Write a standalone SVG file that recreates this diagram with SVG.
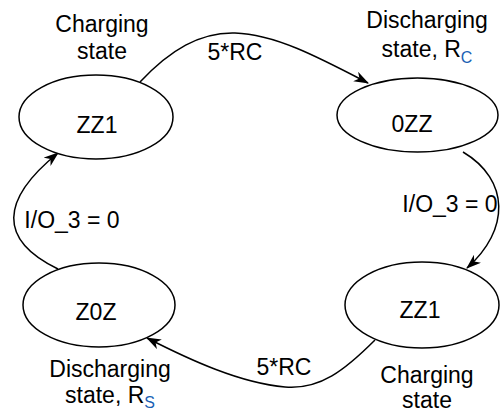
<svg xmlns="http://www.w3.org/2000/svg" width="503" height="413" viewBox="0 0 503 413">
<defs>
<style>
.node ellipse{fill:#fff;stroke:#000;stroke-width:1.5}
text{font-family:"Liberation Sans",Arial,sans-serif;font-size:23px;fill:#000;text-anchor:middle}
.sub{font-size:16px;fill:#1a5fb4}
.edge{fill:none;stroke:#000;stroke-width:1.5}
</style>
<marker id="arr" viewBox="0 0 14 10" refX="13" refY="5" markerWidth="15" markerHeight="11" markerUnits="userSpaceOnUse" orient="auto">
<path d="M0,0 L14,5 L0,10 L4,5 Z" fill="#000"/>
</marker>
</defs>
<g id="connectors">
<path class="edge" d="M140,82 C170,50 200,32 235,33 C275,34 320,58 368,83" marker-end="url(#arr)"/>
<path class="edge" d="M463,152 C510,180 510,230 467,268" marker-end="url(#arr)"/>
<path class="edge" d="M375,340 C345,370 320,390 285,387 C240,383 190,360 147,338" marker-end="url(#arr)"/>
<path class="edge" d="M58,269 C-2,240 0,200 58,153" marker-end="url(#arr)"/>
<text x="235" y="60">5*RC</text>
<text x="450" y="212">I/O_3 = 0</text>
<text x="284" y="375">5*RC</text>
<text x="72" y="228">I/O_3 = 0</text>
</g>
<g id="n_zz1_top" class="node">
<ellipse cx="96" cy="117" rx="77" ry="42"/>
<text x="97" y="133">ZZ1</text>
<text x="102" y="32">Charging</text>
<text x="102" y="59">state</text>
</g>
<g id="n_0zz" class="node">
<ellipse cx="417.5" cy="115" rx="80.5" ry="37"/>
<text x="412" y="132">0ZZ</text>
<text x="427" y="28">Discharging</text>
<text x="427" y="57">state, R<tspan class="sub" dy="6">C</tspan></text>
</g>
<g id="n_zz1_bot" class="node">
<ellipse cx="422" cy="305" rx="77" ry="43"/>
<text x="420" y="318">ZZ1</text>
<text x="427" y="383">Charging</text>
<text x="427" y="408">state</text>
</g>
<g id="n_z0z" class="node">
<ellipse cx="99" cy="305" rx="76" ry="42"/>
<text x="96" y="320">Z0Z</text>
<text x="110" y="377">Discharging</text>
<text x="110" y="403">state, R<tspan class="sub" dy="5">S</tspan></text>
</g>
</svg>
